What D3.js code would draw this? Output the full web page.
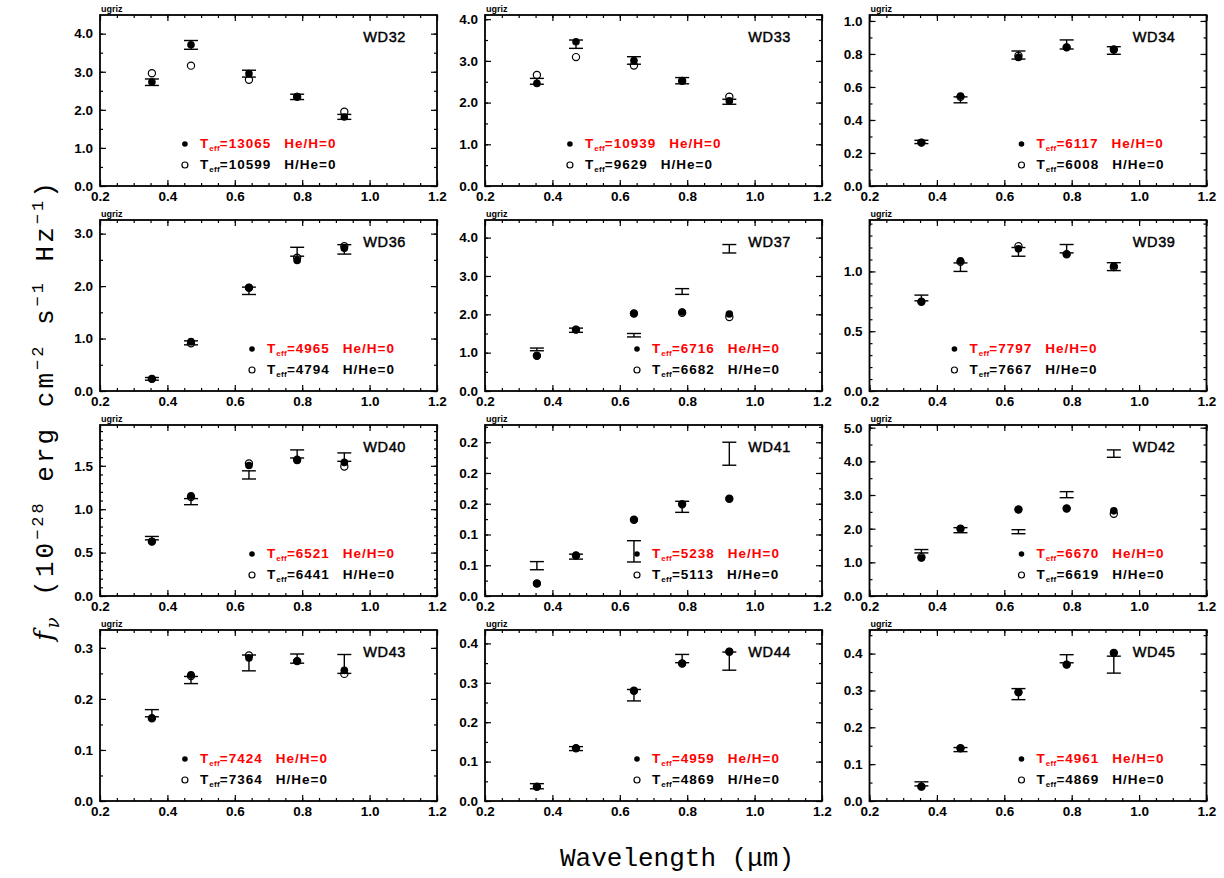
<!DOCTYPE html>
<html><head><meta charset="utf-8">
<script src="https://cdn.jsdelivr.net/npm/d3@7"></script>
<style>body{margin:0;background:#fff}</style>
</head><body>
<svg id="c" width="1224" height="878" xmlns="http://www.w3.org/2000/svg"></svg>
<script>
// ---------------- data ----------------
const names = ["WD32","WD33","WD34","WD36","WD37","WD39","WD40","WD41","WD42","WD43","WD44","WD45"];
const bands = ["u","g","r","i","z"];
const wavelengths = [0.354, 0.470, 0.642, 0.785, 0.925];

// observed fluxes (10^-28 erg cm^-2 s^-1 Hz^-1) and 1-sigma errors
const obsFlux = [
  [2.725, 3.705, 2.95, 2.34, 1.815],
  [2.51, 3.40, 3.01, 2.525, 2.02],
  [0.267, 0.522, 0.7935, 0.8575, 0.821],
  [0.2315, 0.918, 1.91, 2.655, 2.70],
  [1.085, 1.585, 1.455, 2.595, 3.71],
  [0.778, 1.0355, 1.1635, 1.19, 1.04],
  [0.6665, 1.087, 1.395, 1.6365, 1.60],
  [0.0493, 0.064, 0.0726, 0.145, 0.2313],
  [1.33, 1.955, 1.91, 3.01, 4.23],
  [0.172, 0.237, 0.2705, 0.279, 0.2685],
  [0.0375, 0.133, 0.2685, 0.3615, 0.355],
  [0.0465, 0.1395, 0.29, 0.386, 0.37]
];
const obsErr = [
  [0.085, 0.115, 0.09, 0.07, 0.065],
  [0.07, 0.10, 0.09, 0.075, 0.06],
  [0.010, 0.018, 0.0245, 0.0275, 0.023],
  [0.0255, 0.038, 0.07, 0.085, 0.09],
  [0.035, 0.055, 0.045, 0.075, 0.11],
  [0.024, 0.0355, 0.0365, 0.035, 0.033],
  [0.0195, 0.035, 0.047, 0.0465, 0.0485],
  [0.0066, 0.004, 0.0173, 0.009, 0.0187],
  [0.05, 0.075, 0.06, 0.09, 0.11],
  [0.007, 0.007, 0.0155, 0.009, 0.0185],
  [0.0065, 0.005, 0.0145, 0.0105, 0.023],
  [0.0055, 0.0055, 0.015, 0.011, 0.023]
];
// pure-H model fluxes (filled) and pure-He model fluxes (open)
const modelH = [
  [2.73, 3.71, 2.95, 2.35, 1.81],
  [2.46, 3.46, 3.01, 2.52, 2.04],
  [0.263, 0.545, 0.779, 0.840, 0.824],
  [0.231, 0.944, 1.97, 2.49, 2.72],
  [0.92, 1.60, 2.02, 2.06, 2.01],
  [0.746, 1.088, 1.19, 1.144, 1.045],
  [0.627, 1.153, 1.504, 1.562, 1.539],
  [0.0203, 0.0658, 0.124, 0.1496, 0.158],
  [1.13, 2.00, 2.57, 2.60, 2.53],
  [0.162, 0.247, 0.280, 0.274, 0.256],
  [0.036, 0.134, 0.280, 0.349, 0.379],
  [0.039, 0.143, 0.295, 0.370, 0.402]
];
const modelHe = [
  [2.96, 3.16, 2.79, 2.34, 1.95],
  [2.66, 3.09, 2.89, 2.52, 2.14],
  [0.263, 0.540, 0.789, 0.840, 0.828],
  [0.231, 0.91, 1.97, 2.54, 2.76],
  [0.92, 1.60, 2.02, 2.04, 1.93],
  [0.746, 1.08, 1.21, 1.144, 1.037],
  [0.627, 1.14, 1.527, 1.57, 1.492],
  [0.0203, 0.0658, 0.124, 0.149, 0.158],
  [1.15, 2.00, 2.57, 2.60, 2.44],
  [0.162, 0.245, 0.285, 0.274, 0.249],
  [0.036, 0.134, 0.280, 0.349, 0.379],
  [0.039, 0.143, 0.295, 0.370, 0.402]
];
const teffH  = [13065, 10939, 6117, 4965, 6716, 7797, 6521, 5238, 6670, 7424, 4959, 4961];
const teffHe = [10599, 9629, 6008, 4794, 6682, 7667, 6441, 5113, 6619, 7364, 4869, 4869];

// axes
const xDomain = [0.2, 1.2];
const xTicks = [0.2, 0.4, 0.6, 0.8, 1.0, 1.2];
const yMax = [4.49, 4.10, 1.036, 3.26, 4.46, 1.43, 1.97, 0.278, 5.08, 0.335, 0.434, 0.464];
const yTicks = [
  [0,1,2,3,4],[0,1,2,3,4],[0,0.2,0.4,0.6,0.8,1.0],[0,1,2,3],[0,1,2,3,4],[0,0.5,1.0],
  [0,0.5,1.0,1.5],[0,0.05,0.10,0.15,0.20,0.25],[0,1,2,3,4,5],[0,0.1,0.2,0.3],[0,0.1,0.2,0.3,0.4],[0,0.1,0.2,0.3,0.4]
];
const yTickLabels = [
  ["0.0","1.0","2.0","3.0","4.0"],["0.0","1.0","2.0","3.0","4.0"],["0.0","0.2","0.4","0.6","0.8","1.0"],
  ["0.0","1.0","2.0","3.0"],["0.0","1.0","2.0","3.0","4.0"],["0.0","0.5","1.0"],
  ["0.0","0.5","1.0","1.5"],["0.0","0.1","0.1","0.2","0.2","0.2"],["0.0","1.0","2.0","3.0","4.0","5.0"],
  ["0.0","0.1","0.2","0.3"],["0.0","0.1","0.2","0.3","0.4"],["0.0","0.1","0.2","0.3","0.4"]
];
const yMinorStep = [0.5,0.5,0.1,0.5,0.5,0.1,0.1,0.025,0.5,0.05,0.05,0.05];
const legendX = [0.452,0.452,0.651,0.651,0.651,0.452,0.651,0.651,0.651,0.452,0.651,0.651];

// ---------------- layout ----------------
const colLeft = [100, 485, 869.5];
const rowTop0 = 15, rowStep = 205;
const PW = 337, PH = 171;
const tickFont = "'Liberation Sans', Arial, Helvetica, sans-serif";

const svg = d3.select("#c");

names.forEach((name, i) => {
  const col = i % 3, row = Math.floor(i / 3);
  const g = svg.append("g").attr("transform", `translate(${colLeft[col]},${rowTop0 + row * rowStep})`);
  const x = d3.scaleLinear().domain(xDomain).range([0, PW]);
  const y = d3.scaleLinear().domain([0, yMax[i]]).range([PH, 0]);

  const xMinor = d3.range(0.2, 1.2001, 0.05).map(v => +v.toFixed(3));
  const yMinor = d3.range(0, yMax[i] + 1e-9, yMinorStep[i]).map(v => +v.toFixed(4));

  const styleAxis = sel => {
    sel.select(".domain").remove();
    sel.selectAll(".tick line").attr("stroke", "#000").attr("stroke-width", 1.2);
    sel.selectAll("text").attr("font-family", tickFont).attr("font-size", 13.5)
      .attr("font-weight", "bold").attr("fill", "#000");
  };
  // minor ticks on all sides
  g.append("g").attr("transform", `translate(0,${PH})`).call(d3.axisBottom(x).tickValues(xMinor).tickSize(-3).tickFormat("")).call(styleAxis);
  g.append("g").call(d3.axisTop(x).tickValues(xMinor).tickSize(-3).tickFormat("")).call(styleAxis);
  g.append("g").call(d3.axisLeft(y).tickValues(yMinor).tickSize(-3).tickFormat("")).call(styleAxis);
  g.append("g").attr("transform", `translate(${PW},0)`).call(d3.axisRight(y).tickValues(yMinor).tickSize(-3).tickFormat("")).call(styleAxis);
  // major ticks
  g.append("g").attr("transform", `translate(0,${PH})`)
    .call(d3.axisBottom(x).tickValues(xTicks).tickSize(-6).tickPadding(5).tickFormat(d3.format(".1f"))).call(styleAxis);
  g.append("g").call(d3.axisTop(x).tickValues(xTicks).tickSize(-6).tickFormat("")).call(styleAxis);
  g.append("g").call(d3.axisLeft(y).tickValues(yTicks[i]).tickSize(-6).tickPadding(7)
      .tickFormat((d, k) => yTickLabels[i][k])).call(styleAxis);
  g.append("g").attr("transform", `translate(${PW},0)`).call(d3.axisRight(y).tickValues(yTicks[i]).tickSize(-6).tickFormat("")).call(styleAxis);

  // frame
  g.append("rect").attr("width", PW).attr("height", PH).attr("fill", "none")
    .attr("stroke", "#000").attr("stroke-width", 1.8);

  // labels
  g.append("text").attr("x", 1).attr("y", -3.5).text("ugriz")
    .attr("font-family", tickFont).attr("font-size", 9).attr("font-weight", "bold");
  g.append("text").attr("x", PW - 31).attr("y", 26.7).attr("text-anchor", "end").text(name)
    .attr("font-family", tickFont).attr("font-size", 14.5).attr("letter-spacing", 0.6)
    .attr("stroke", "#000").attr("stroke-width", 0.45);

  // data
  const pts = bands.map((b, k) => ({
    w: wavelengths[k], f: obsFlux[i][k], e: obsErr[i][k], h: modelH[i][k], he: modelHe[i][k]
  }));
  const eb = g.append("g").attr("stroke", "#000").attr("stroke-width", 1.4);
  pts.forEach(p => {
    const cx = x(p.w), yl = y(p.f - p.e), yh = y(p.f + p.e);
    eb.append("line").attr("x1", cx).attr("x2", cx).attr("y1", yl).attr("y2", yh);
    eb.append("line").attr("x1", cx - 7).attr("x2", cx + 7).attr("y1", yl).attr("y2", yl);
    eb.append("line").attr("x1", cx - 7).attr("x2", cx + 7).attr("y1", yh).attr("y2", yh);
  });
  g.append("g").selectAll("circle").data(pts).join("circle")
    .attr("cx", p => x(p.w)).attr("cy", p => y(p.he)).attr("r", 3.6)
    .attr("fill", "none").attr("stroke", "#000").attr("stroke-width", 1.2);
  g.append("g").selectAll("circle").data(pts).join("circle")
    .attr("cx", p => x(p.w)).attr("cy", p => y(p.h)).attr("r", 3.8).attr("fill", "#000");

  // legend
  const lx = x(legendX[i]);
  const rows = [
    {y: PH - 42, filled: true, teff: teffH[i], comp: "He/H=0", color: "#ff0000"},
    {y: PH - 21, filled: false, teff: teffHe[i], comp: "H/He=0", color: "#000"}
  ];
  rows.forEach(r => {
    if (r.filled) g.append("circle").attr("cx", lx).attr("cy", r.y).attr("r", 2.8).attr("fill", "#000");
    else g.append("circle").attr("cx", lx).attr("cy", r.y).attr("r", 3).attr("fill", "none")
          .attr("stroke", "#000").attr("stroke-width", 1.2);
    const t = g.append("text").attr("x", lx + 15).attr("y", r.y + 4)
      .attr("font-family", tickFont).attr("font-size", 13.5).attr("font-weight", "bold")
      .attr("letter-spacing", 1).attr("fill", r.color);
    t.append("tspan").text("T");
    t.append("tspan").attr("font-size", 8).attr("dy", 3).attr("letter-spacing", 0.3).text("eff");
    t.append("tspan").attr("dy", -3).text("=" + r.teff);
    t.append("tspan").attr("dx", 13).text(r.comp);
  });
});

// global axis titles
const monoFont = "'Liberation Mono', 'DejaVu Sans Mono', monospace";
svg.append("text").attr("x", 677).attr("y", 866).attr("text-anchor", "middle")
  .attr("font-family", monoFont).attr("font-size", 26)
  .text("Wavelength (μm)");

const yl = svg.append("text").attr("transform", "translate(53,410) rotate(-90)")
  .attr("text-anchor", "middle").attr("font-family", monoFont).attr("font-size", 26)
  .attr("letter-spacing", 3);
yl.append("tspan").attr("font-family", "'DejaVu Serif', serif").attr("font-style", "italic").text("f");
yl.append("tspan").attr("font-family", "'DejaVu Serif', serif").attr("font-style", "italic")
  .attr("font-size", 18).attr("dy", 6).text("ν");
yl.append("tspan").attr("dy", -6).text(" (10");
yl.append("tspan").attr("font-size", 17).attr("dy", -10).text("−28");
yl.append("tspan").attr("dy", 10).text(" erg cm");
yl.append("tspan").attr("font-size", 17).attr("dy", -10).text("−2");
yl.append("tspan").attr("dy", 10).text(" s");
yl.append("tspan").attr("font-size", 17).attr("dy", -10).text("−1");
yl.append("tspan").attr("dy", 10).text(" Hz");
yl.append("tspan").attr("font-size", 17).attr("dy", -10).text("−1");
yl.append("tspan").attr("dy", 10).text(")");
</script>
</body></html>
